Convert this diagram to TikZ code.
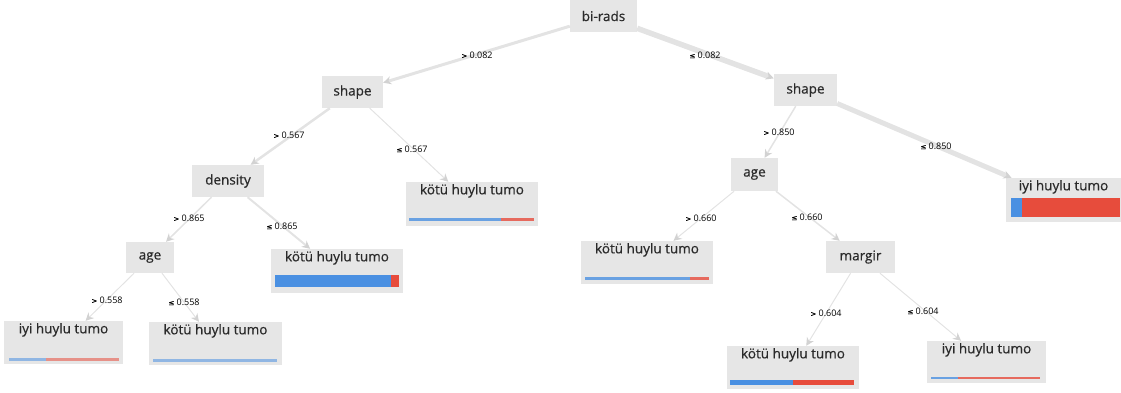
\documentclass[tikz,border=0pt]{standalone}
\usepackage{fontspec}
\setmainfont{Open Sans}
\newfontfamily\heavyfont[FakeBold=0.6]{Open Sans}
\newfontfamily\symf[FakeBold=1]{DejaVu Sans}
\usetikzlibrary{arrows.meta}
\definecolor{boxgray}{HTML}{E6E6E6}
\definecolor{edgegray}{HTML}{E3E3E3}
\definecolor{tipgray}{HTML}{D2D2D2}
\definecolor{barblue}{HTML}{4A90E2}
\definecolor{barred}{HTML}{E74C3C}
\definecolor{ink}{HTML}{2A2A2A}
\newcommand{\gtsym}{{\symf\fontsize{7}{8}\selectfont >}}
\newcommand{\lesym}{{\symf\fontsize{7}{8}\selectfont ≤}}
\begin{document}
\begin{tikzpicture}[x=1pt,y=-1pt,
  split/.style={fill=boxgray, draw=none, inner sep=0pt, minimum height=32pt,
    font=\heavyfont\fontsize{13.5}{15}\selectfont, text=ink},
  leafbox/.style={fill=boxgray, draw=none, inner sep=0pt},
  leaftext/.style={font=\heavyfont\fontsize{13.5}{15}\selectfont, text=ink, inner sep=0pt},
  cond/.style={font=\fontsize{9}{10}\selectfont, text=black, inner sep=0pt},
  branch/.style={draw=edgegray, -{Stealth[length=8pt,width=8pt,color=tipgray]}},
]
\useasboundingbox (0,0) rectangle (1121,392);

% split nodes
\node[split, minimum width=67pt] (birads)  at (603.5,16)  {bi-rads};
\node[split, minimum width=61pt] (shapeL)  at (352.5,92)  {shape};
\node[split, minimum width=63pt] (shapeR)  at (805.5,90)  {shape};
\node[split, minimum width=72pt] (density) at (228,181)   {density};
\node[split, minimum width=48pt, minimum height=31pt] (ageL) at (150,257.5) {age};
\node[split, minimum width=47pt, minimum height=33pt] (ageR) at (754.5,174.5) {age};
\node[split, minimum width=69pt] (margir)  at (860.5,257) {margir};

% leaf boxes
\node[leafbox, minimum width=119pt, minimum height=43pt] (leafA) at (63.5,342.5) {};
\node[leafbox, minimum width=133pt, minimum height=43pt] (leafB) at (215.5,343.5) {};
\node[leafbox, minimum width=132pt, minimum height=44pt] (leafC) at (337,271) {};
\node[leafbox, minimum width=132pt, minimum height=44pt] (leafD) at (472,204) {};
\node[leafbox, minimum width=132pt, minimum height=43pt] (leafE) at (647,262.5) {};
\node[leafbox, minimum width=115pt, minimum height=44pt] (leafF) at (1063.5,200) {};
\node[leafbox, minimum width=132pt, minimum height=43pt] (leafG) at (793,367.5) {};
\node[leafbox, minimum width=119pt, minimum height=42pt] (leafH) at (986.5,362) {};

% leaf titles
\node[leaftext, yshift=-9pt] (leafA-t) at (leafA.north) {iyi huylu tumo};
\node[leaftext, yshift=-9pt] (leafB-t) at (leafB.north) {kötü huylu tumo};
\node[leaftext, yshift=-9pt] (leafC-t) at (leafC.north) {kötü huylu tumo};
\node[leaftext, yshift=-9pt] (leafD-t) at (leafD.north) {kötü huylu tumo};
\node[leaftext, yshift=-9pt] (leafE-t) at (leafE.north) {kötü huylu tumo};
\node[leaftext, yshift=-9pt] (leafF-t) at (leafF.north) {iyi huylu tumo};
\node[leaftext, yshift=-9pt] (leafG-t) at (leafG.north) {kötü huylu tumo};
\node[leaftext, yshift=-9pt] (leafH-t) at (leafH.north) {iyi huylu tumo};

% class distribution bars
\fill[barblue, opacity=.55] (9,358) rectangle (46,360.5);
\fill[barred,  opacity=.55] (46,358) rectangle (119,360.5);
\fill[barblue, opacity=.55] (153,359) rectangle (277,361.5);
\fill[barblue] (275,275) rectangle (391,287);
\fill[barred]  (391,275) rectangle (399,287);
\fill[barblue, opacity=.8] (409,218) rectangle (501,220.5);
\fill[barred,  opacity=.8] (501,218) rectangle (534,220.5);
\fill[barblue, opacity=.8] (585,277) rectangle (690,279.5);
\fill[barred,  opacity=.8] (690,277) rectangle (709,279.5);
\fill[barblue] (1011,198) rectangle (1022,217);
\fill[barred]  (1022,198) rectangle (1120,217);
\fill[barblue] (730,379.5) rectangle (793,384.5);
\fill[barred]  (793,379.5) rectangle (854,384.5);
\fill[barblue, opacity=.8] (931,376.5) rectangle (958,379);
\fill[barred,  opacity=.8] (958,376.5) rectangle (1040,379);

% branches
\draw[branch, line width=3pt]   (birads) -- (shapeL);
\draw[branch, line width=5.5pt] (birads) -- (shapeR);
\draw[branch, line width=2.5pt] (shapeL) -- (density);
\draw[branch, line width=1pt]   (shapeL) -- (leafD);
\draw[branch, line width=1.5pt] (density) -- (ageL);
\draw[branch, line width=2pt]   (density) -- (leafC);
\draw[branch, line width=1pt]   (ageL) -- (leafA);
\draw[branch, line width=1pt]   (ageL) -- (leafB);
\draw[branch, line width=1.5pt] (shapeR) -- (ageR);
\draw[branch, line width=5pt]   (shapeR) -- (leafF);
\draw[branch, line width=1pt]   (ageR) -- (leafE);
\draw[branch, line width=1.5pt] (ageR) -- (margir);
\draw[branch, line width=1pt]   (margir) -- (leafG);
\draw[branch, line width=1pt]   (margir) -- (leafH);

% branch conditions
\node[cond] (c1)  at (477,55)  {\gtsym\ 0.082};
\node[cond] (c2)  at (705,55)  {\lesym\ 0.082};
\node[cond] (c3)  at (289,135) {\gtsym\ 0.567};
\node[cond] (c4)  at (412,149) {\lesym\ 0.567};
\node[cond] (c5)  at (779,132) {\gtsym\ 0.850};
\node[cond] (c6)  at (936,146) {\lesym\ 0.850};
\node[cond] (c7)  at (189,218) {\gtsym\ 0.865};
\node[cond] (c8)  at (282,226) {\lesym\ 0.865};
\node[cond] (c9)  at (107,300) {\gtsym\ 0.558};
\node[cond] (c10) at (184,302) {\lesym\ 0.558};
\node[cond] (c11) at (701,218) {\gtsym\ 0.660};
\node[cond] (c12) at (807,217) {\lesym\ 0.660};
\node[cond] (c13) at (826,313) {\gtsym\ 0.604};
\node[cond] (c14) at (923,311) {\lesym\ 0.604};
\end{tikzpicture}
\end{document}
